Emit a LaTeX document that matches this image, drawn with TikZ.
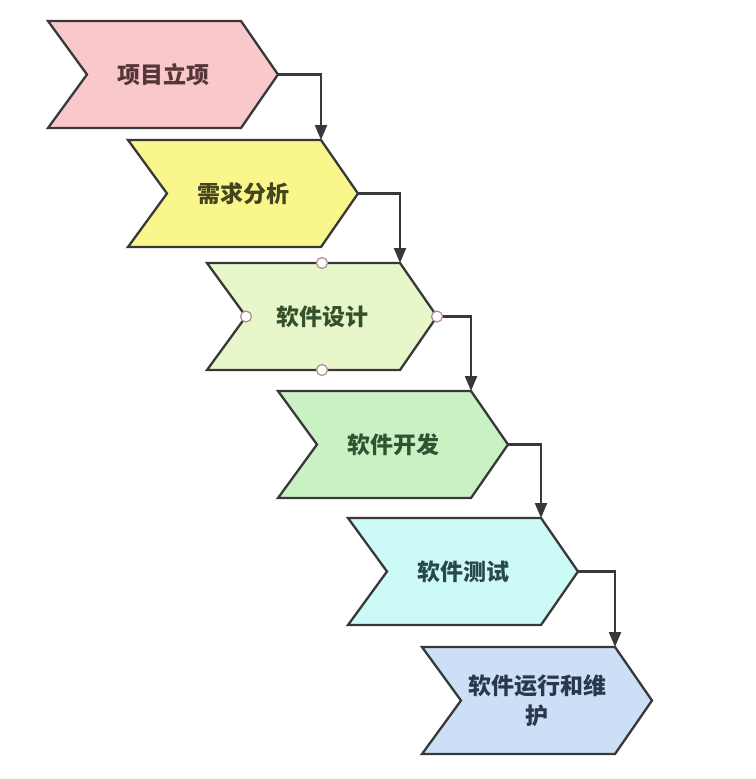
\documentclass[tikz,border=0pt]{standalone}
\usepackage{fontspec}
\newfontfamily\cjk{Noto Sans CJK SC}
\usetikzlibrary{arrows.meta}
\definecolor{bd}{HTML}{383838}
\definecolor{f1}{HTML}{F9C8CB}
\definecolor{f2}{HTML}{F9F68C}
\definecolor{f3}{HTML}{E7F7C9}
\definecolor{f4}{HTML}{C9F1C3}
\definecolor{f5}{HTML}{CCFAF6}
\definecolor{f6}{HTML}{CCDFF7}
\definecolor{t1}{HTML}{553638}
\definecolor{t2}{HTML}{44441E}
\definecolor{t3}{HTML}{34502C}
\definecolor{t4}{HTML}{305432}
\definecolor{t5}{HTML}{2A4849}
\definecolor{t6}{HTML}{2A384C}
\definecolor{handlec}{HTML}{B08A8A}
\tikzset{
  chevshape/.style={draw=bd, line width=2.3pt, line join=miter},
  lbl/.style={font=\cjk\bfseries\fontsize{23}{30}\selectfont, align=center, inner sep=0pt},
  conn/.style={draw=bd, line width=2.2pt, -{Triangle[length=15pt,width=12pt]}},
  handle/.style={circle, draw=handlec, fill=white, line width=1.2pt, minimum size=11pt, inner sep=0pt}
}
\newcommand\chev[6]{%
  \path[chevshape, fill=#4] (#2,#3) -- ++(193,0) -- ++(37,53.5) -- ++(-37,53.5) -- ++(-193,0) -- ++(39,-53.5) -- cycle;
  \coordinate (#1tr) at (#2+193,#3);
  \coordinate (#1tip) at (#2+230,#3+53.5);
  \coordinate (#1notch) at (#2+39,#3+53.5);
  \coordinate (#1top) at (#2+115,#3);
  \coordinate (#1bot) at (#2+115,#3+107);
  \node[lbl, text=#5] (#1) at (#2+115,#3+53.5) {#6};
}
\begin{document}
\begin{tikzpicture}[x=1pt,y=-1pt]
\useasboundingbox[fill=white] (0,0) rectangle (755,779);
\chev{s1}{48}{21}{f1}{t1}{项目立项}
\chev{s2}{128}{140}{f2}{t2}{需求分析}
\chev{s3}{207}{263}{f3}{t3}{软件设计}
\chev{s4}{278}{391}{f4}{t4}{软件开发}
\chev{s5}{348}{518}{f5}{t5}{软件测试}
\chev{s6}{422}{647}{f6}{t6}{软件运行和维\\护}
\draw[conn] (s1tip) -| (s2tr);
\draw[conn] (s2tip) -| (s3tr);
\draw[conn] (s3tip) -| (s4tr);
\draw[conn] (s4tip) -| (s5tr);
\draw[conn] (s5tip) -| (s6tr);
\node[handle] (h1) at (s3top) {};
\node[handle] (h2) at (s3bot) {};
\node[handle] (h3) at (s3notch) {};
\node[handle] (h4) at (s3tip) {};
\end{tikzpicture}
\end{document}
